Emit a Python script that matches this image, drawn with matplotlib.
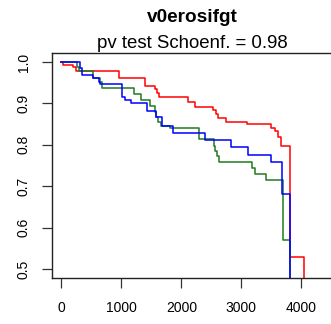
import matplotlib
matplotlib.use("Agg")
import matplotlib.pyplot as plt

plt.rcParams['font.family'] = ['Liberation Sans', 'DejaVu Sans']

title = "v0erosifgt"
subtitle = "pv test Schoenf. = 0.98"

xticks = [0, 1000, 2000, 3000, 4000]
yticks = [0.5, 0.6, 0.7, 0.8, 0.9, 1.0]
ytick_labels = ["0.5", "0.6", "0.7", "0.8", "0.9", "1.0"]

red_t = [0, 22, 188, 245, 955, 1400, 1562, 1595, 1622, 2105, 2222, 2528, 2583,
         2617, 2742, 3095, 3500, 3567, 3608, 3667, 3808, 4050]
red_s = [1.0, 0.9928, 0.9872, 0.9776, 0.9607, 0.9422, 0.9342, 0.9260, 0.9164,
         0.9043, 0.8923, 0.8843, 0.8740, 0.8643, 0.8561, 0.8499, 0.8417, 0.8337,
         0.8193, 0.7959, 0.5294, 0.0]

green_t = [0, 267, 300, 533, 650, 678, 1217, 1333, 1483, 1567, 1583, 1605, 1667,
           1805, 2288, 2538, 2555, 2595, 2633, 3178, 3222, 3408, 3695, 3805]
green_s = [1.0, 0.9887, 0.9790, 0.9622, 0.9511, 0.9366, 0.9222, 0.9084, 0.8940,
           0.8802, 0.8682, 0.8561, 0.8458, 0.8402, 0.8133, 0.7976, 0.7839, 0.7718,
           0.7583, 0.7439, 0.7294, 0.7145, 0.5711, 0.0]

blue_t = [0, 305, 345, 522, 622, 650, 1012, 1067, 1167, 1433, 1583, 1678, 1862,
          2400, 2833, 3112, 3500, 3678, 3817]
blue_s = [1.0, 0.9863, 0.9687, 0.9622, 0.9511, 0.9463, 0.9164, 0.9084, 0.9000,
          0.8812, 0.8682, 0.8458, 0.8282, 0.8104, 0.7945, 0.7759, 0.7573, 0.6807, 0.0]

W, H = 331, 324
fig = plt.figure(figsize=(W / 100, H / 100), dpi=100)
left, right, top, bottom = 52, 332, 53, 278
ax = fig.add_axes([left / W, 1 - bottom / H, (right - left) / W, (bottom - top) / H])

lw = 1.1
ax.step(red_t, red_s, where='post', color='#ff0000', lw=lw)
ax.step(green_t, green_s, where='post', color='#1f7a1f', lw=lw)
ax.step(blue_t, blue_s, where='post', color='#0000ff', lw=lw)

ax.set_xlim(-155, 4510)
ax.set_ylim(0.4783, 1.0217)

ax.set_xticks(xticks)
ax.set_xticklabels([str(v) for v in xticks])
ax.set_yticks(yticks)
ax.set_yticklabels(ytick_labels, rotation=90, va='center')

ax.tick_params(axis='both', direction='out', length=7.2, width=0.9, color='#333333',
               labelsize=10, labelcolor='black')
ax.tick_params(axis='x', pad=9)
ax.tick_params(axis='y', pad=8)

for sp in ax.spines.values():
    sp.set_linewidth(1.0)
    sp.set_color('#222222')

fig.text(192 / W, 1 - 22 / H, title, ha='center', va='baseline',
         fontsize=13.7, fontweight='bold')
fig.text(192 / W, 1 - 48 / H, subtitle, ha='center', va='baseline', fontsize=13.4)

fig.savefig("out.png", dpi=100)
